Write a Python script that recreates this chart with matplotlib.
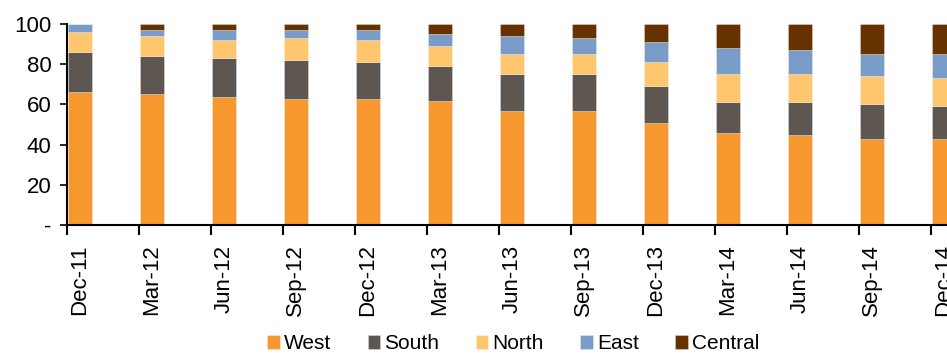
import matplotlib

matplotlib.use("Agg")
import matplotlib.pyplot as plt
import numpy as np

plt.rcParams["font.family"] = ["Liberation Sans", "DejaVu Sans"]

QUARTERS = ["Dec-11", "Mar-12", "Jun-12", "Sep-12", "Dec-12", "Mar-13", "Jun-13",
            "Sep-13", "Dec-13", "Mar-14", "Jun-14", "Sep-14", "Dec-14"]
# regional share of sales, % (stacked bottom to top)
WEST = [66.3, 65.3, 63.5, 62.5, 62.5, 61.5, 56.6, 56.6, 50.6, 45.6, 44.6, 42.6, 42.6]
SOUTH = [19.8, 18.8, 19.6, 19.6, 18.6, 17.6, 18.7, 18.7, 18.7, 15.8, 16.8, 17.8, 16.8]
NORTH = [9.9, 10.1, 9.1, 11.1, 11.1, 10.0, 9.9, 9.9, 12.0, 13.9, 13.9, 13.9, 13.9]
EAST = [4.0, 3.0, 5.0, 4.0, 5.0, 6.1, 9.0, 8.0, 9.9, 12.9, 11.9, 10.9, 11.9]
CENTRAL = [0.0, 2.8, 2.8, 2.8, 2.8, 4.8, 5.8, 6.8, 8.8, 11.8, 12.8, 14.8, 14.8]

SERIES = [("West", WEST, "#F7982F"), ("South", SOUTH, "#5E5651"),
          ("North", NORTH, "#FFC66E"), ("East", EAST, "#7A9CC8"),
          ("Central", CENTRAL, "#663300")]
Y_TICKS = [0, 20, 40, 60, 80, 100]
Y_LABELS = ["-", "20", "40", "60", "80", "100"]

W, H = 947, 356
fig = plt.figure(figsize=(W / 100, H / 100), dpi=100)
ax = fig.add_axes([67 / W, (H - 225) / H, (W - 67) / W, 201 / H])

x = np.arange(len(QUARTERS))
offset, width = 0.18, 0.333
bottom = np.zeros(len(QUARTERS))
for name, vals, color in SERIES:
    vals = np.array(vals)
    ax.bar(x + offset, vals, width, bottom=bottom, color=color, label=name,
           edgecolor=(1, 1, 1, 0.35), linewidth=0.6)
    bottom += vals

ax.set_xlim(0, (W - 67) / 72)
ax.set_ylim(0, 100)
ax.set_yticks(Y_TICKS, Y_LABELS, fontsize=16)
ax.tick_params(axis="y", direction="out", length=5, width=1.2, pad=6)

# ticks sit at the category boundary, labels under the bar centres
ax.set_xticks(x)
ax.set_xticklabels([])
ax.tick_params(axis="x", which="major", direction="out", length=7, width=1.5)
ax.set_xticks(x + offset, minor=True)
ax.set_xticklabels(QUARTERS, minor=True, rotation=90, fontsize=16)
ax.tick_params(axis="x", which="minor", length=0, pad=14)

for side in ("top", "right"):
    ax.spines[side].set_visible(False)
for side in ("left", "bottom"):
    ax.spines[side].set_linewidth(1.5)

fig.legend(loc="lower center", bbox_to_anchor=(0.542, -0.045), ncol=5,
           frameon=False, fontsize=15, handlelength=0.6, handleheight=0.6,
           handletextpad=0.2, columnspacing=1.75)

fig.savefig("out.png", dpi=100)
